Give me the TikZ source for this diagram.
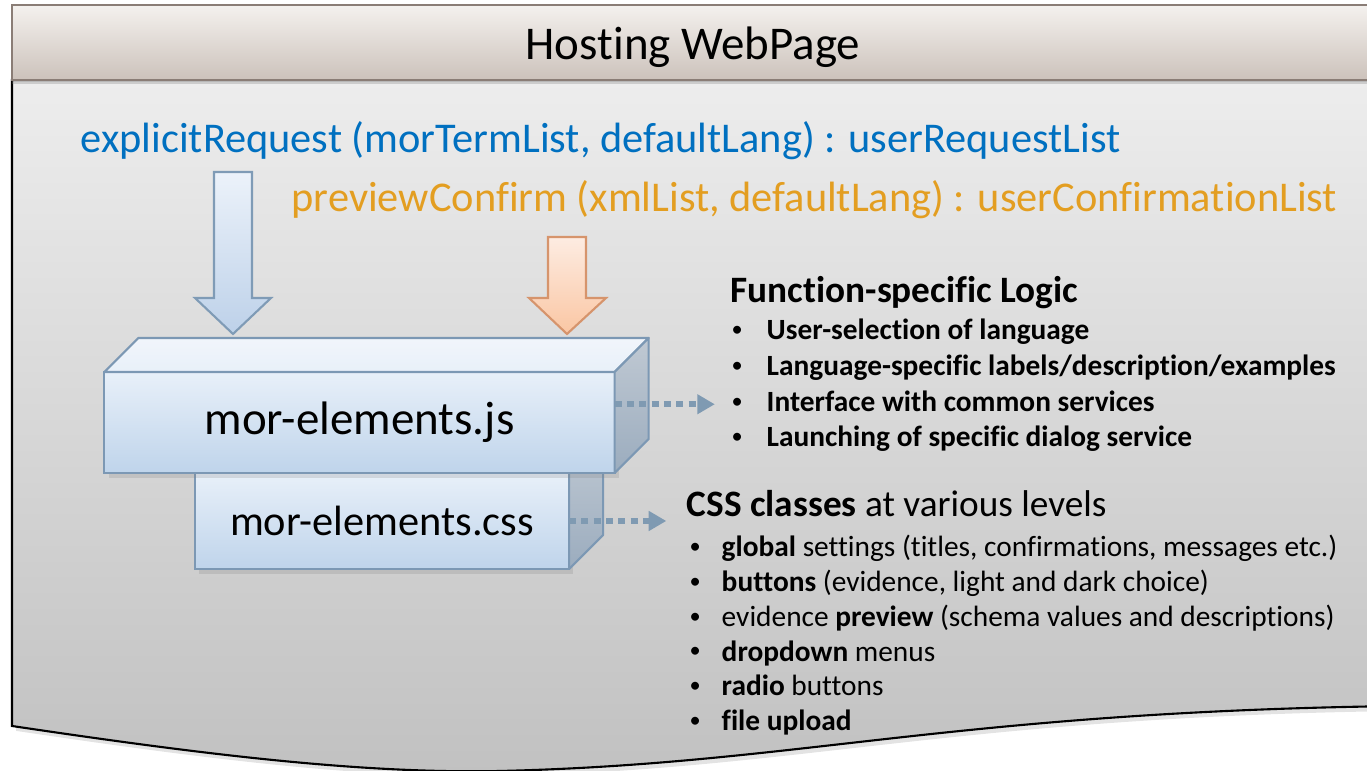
\documentclass[tikz,border=0pt]{standalone}
\usepackage{fontspec}
\setmainfont{Carlito}[Ligatures=NoCommon]
\usetikzlibrary{positioning,arrows.meta,shadows,calc}

\definecolor{reqblue}{RGB}{0,112,192}
\definecolor{confirmorange}{RGB}{227,158,33}
\definecolor{headtop}{RGB}{244,241,238}
\definecolor{headbottom}{RGB}{204,194,187}
\definecolor{headline}{RGB}{138,125,118}
\definecolor{pagetop}{RGB}{237,237,237}
\definecolor{pagebottom}{RGB}{193,193,193}
\definecolor{boxline}{RGB}{124,152,180}
\definecolor{boxtop}{RGB}{232,240,249}
\definecolor{boxbottom}{RGB}{191,212,235}
\definecolor{boxlid}{RGB}{241,245,251}
\definecolor{sidetop}{RGB}{192,201,211}
\definecolor{sidebottom}{RGB}{155,172,190}
\definecolor{dotline}{RGB}{127,154,178}
\definecolor{bluearrowtop}{RGB}{236,242,250}
\definecolor{bluearrowbottom}{RGB}{189,209,233}
\definecolor{bluearrowline}{RGB}{127,155,182}
\definecolor{orangearrowtop}{RGB}{253,236,226}
\definecolor{orangearrowbottom}{RGB}{250,198,163}
\definecolor{orangearrowline}{RGB}{214,148,108}

\newcommand{\smalldot}{\raisebox{0.22ex}{\scalebox{0.76}{\textbullet}}}
\newcommand{\fnbullet}[1]{\makebox[0.35cm][l]{\smalldot}#1}
\newcommand{\cssbullet}[1]{\makebox[0.32cm][l]{\smalldot}#1}

\tikzset{
    softshadow/.style={drop shadow={opacity=0.22, shadow xshift=1.2pt, shadow yshift=-1.4pt}},
    pagefill/.style={draw=black, line width=0.6pt, top color=pagetop, bottom color=pagebottom, softshadow},
    headfill/.style={draw=headline, line width=0.8pt, top color=headtop, bottom color=headbottom,
        drop shadow={opacity=0.3, shadow xshift=0pt, shadow yshift=-1.2pt}},
    titletext/.style={inner sep=0, font=\fontsize{13.35pt}{16pt}\selectfont},
    calltext/.style={inner sep=0, font=\fontsize{12.05pt}{14.4pt}\selectfont},
    frontface/.style={draw=boxline, line width=0.6pt, top color=boxtop, bottom color=boxbottom,
        inner sep=0, outer sep=0, softshadow},
    lidface/.style={draw=boxline, line width=0.6pt, line join=round, top color=boxlid, bottom color=boxtop},
    sideface/.style={draw=boxline, line width=0.6pt, line join=round, top color=sidetop, bottom color=sidebottom},
    listhead/.style={inner sep=0, anchor=base west, font=\fontsize{10.6pt}{12.7pt}\selectfont},
    listitem/.style={inner sep=0, anchor=base west, text height=6pt, text depth=2pt,
        font=\fontsize{8.35pt}{10pt}\selectfont},
    dotarrow/.style={dotline, line width=1.7pt, dash pattern=on 2pt off 1.5pt,
        -{Triangle[length=5pt,width=5.4pt]}},
}

\begin{document}
\begin{tikzpicture}[x=0.01cm, y=0.01cm, >=Stealth]

    \useasboundingbox (0,0) rectangle (1367,771);
    \clip (0,0) rectangle (1367,771);

    % ═══════════════════════════════════════════════════════════════════════════
    % PAGE
    % ═══════════════════════════════════════════════════════════════════════════

    \draw[pagefill] (12,691) -- (12,45)
        .. controls (200,17) and (360,-3) .. (500,0)
        .. controls (800,7) and (950,59) .. (1400,65) -- (1400,691) -- cycle;

    \draw[headfill] (12,691) rectangle (1400,766);
    \node[titletext, anchor=base] (title) at (693,711) {Hosting WebPage};

    % ═══════════════════════════════════════════════════════════════════════════
    % CALLS
    % ═══════════════════════════════════════════════════════════════════════════

    \node[calltext, reqblue, anchor=base west] (request) at (80,618)
        {explicitRequest (morTermList, defaultLang) : userRequestList};
    \node[calltext, confirmorange, anchor=base west] (confirm) at (291,559)
        {previewConfirm (xmlList, defaultLang) : userConfirmationList};

    % Block arrows
    \draw[draw=bluearrowline, line width=0.6pt, top color=bluearrowtop, bottom color=bluearrowbottom]
        (214,599) -- (252,599) -- (252,473) -- (271,473) -- (233,437) -- (195,473) -- (214,473) -- cycle;
    \draw[draw=orangearrowline, line width=0.6pt, top color=orangearrowtop, bottom color=orangearrowbottom]
        (548,534) -- (586,534) -- (586,473) -- (606,473) -- (567,437) -- (529,473) -- (548,473) -- cycle;

    % ═══════════════════════════════════════════════════════════════════════════
    % FILES
    % ═══════════════════════════════════════════════════════════════════════════

    % CSS block
    \node[frontface, calltext, minimum width=3.74cm, minimum height=0.96cm] (cssfront) at (382,250)
        {mor-elements.css};
    \draw[sideface] (cssfront.north east) -- ++(34,34) -- ($(cssfront.south east)+(34,34)$)
        -- (cssfront.south east) -- cycle;

    % JS block
    \node[frontface, titletext, minimum width=5.10cm, minimum height=1.01cm] (jsfront) at (359.5,348.5)
        {mor-elements.js};
    \draw[lidface] (jsfront.north west) -- ++(34,34) -- ($(jsfront.north east)+(34,34)$)
        -- (jsfront.north east) -- cycle;
    \draw[sideface] (jsfront.north east) -- ++(34,34) -- ($(jsfront.south east)+(34,34)$)
        -- (jsfront.south east) -- cycle;

    % ═══════════════════════════════════════════════════════════════════════════
    % LISTS
    % ═══════════════════════════════════════════════════════════════════════════

    \node[listhead] (fnhead) at (730,468) {\textbf{Function-specific Logic}};
    \node[listitem] (fn1) at (731,431) {\fnbullet{\textbf{User-selection of language}}};
    \node[listitem] (fn2) at (731,395.3) {\fnbullet{\textbf{Language-specific labels/description/examples}}};
    \node[listitem] (fn3) at (731,359.7) {\fnbullet{\textbf{Interface with common services}}};
    \node[listitem] (fn4) at (731,324) {\fnbullet{\textbf{Launching of specific dialog service}}};

    \node[listhead] (csshead) at (686,254) {\textbf{CSS classes} at various levels};
    \node[listitem] (css1) at (689,214) {\cssbullet{\textbf{global} settings (titles, confirmations, messages etc.)}};
    \node[listitem] (css2) at (689,179.3) {\cssbullet{\textbf{buttons} (evidence, light and dark choice)}};
    \node[listitem] (css3) at (689,144.6) {\cssbullet{evidence \textbf{preview} (schema values and descriptions)}};
    \node[listitem] (css4) at (689,109.9) {\cssbullet{\textbf{dropdown} menus}};
    \node[listitem] (css5) at (689,75.2) {\cssbullet{\textbf{radio} buttons}};
    \node[listitem] (css6) at (689,40.5) {\cssbullet{\textbf{file upload}}};

    % Dotted links
    \draw[dotarrow, shorten >=4.6pt] (jsfront.east |- fn3) -- (fn3.west);
    \draw[dotarrow, shorten >=5.6pt] (cssfront.east) -- (cssfront.east -| csshead.west);

\end{tikzpicture}
\end{document}
